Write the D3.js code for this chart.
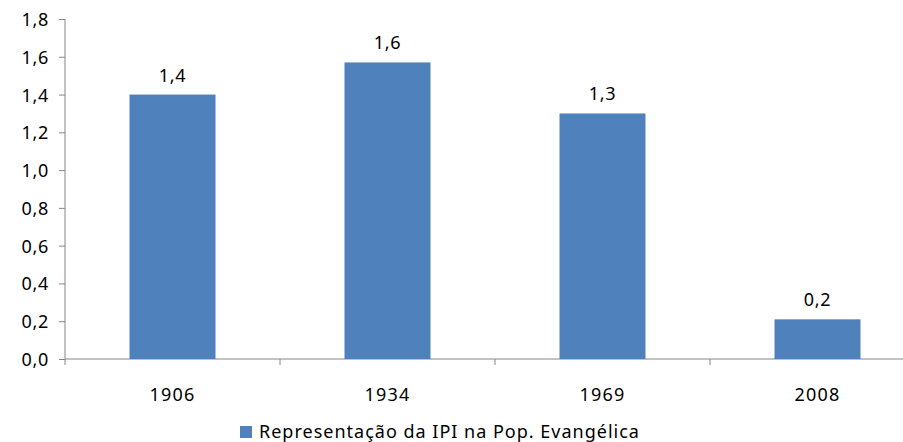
<!DOCTYPE html>
<html>
<head>
<meta charset="utf-8">
<script src="https://cdn.jsdelivr.net/npm/d3@7"></script>
<style>
  body { margin: 0; background: #fff; }
  svg { display: block; font-family: "Noto Sans", sans-serif; }
</style>
</head>
<body>
<div class="container"></div>
<script>
// Chart data
const years = ['1906', '1934', '1969', '2008']
const values = [1.40, 1.57, 1.30, 0.21]
const yTicks = [0, 0.2, 0.4, 0.6, 0.8, 1.0, 1.2, 1.4, 1.6, 1.8]
const seriesName = 'Representação da IPI na Pop. Evangélica'

const width = 903
const height = 442
const margin = {"top": 19, "left": 65, "bottom": 83}
const plotRight = 925   // the plot area runs past the right edge in the original

const barColor = '#4f81bd'
const axisColor = '#868686'
const fontSize = '18px'
const fmt = v => d3.format('.1f')(v).replace('.', ',')

const svg = d3.select('.container')
    .append('svg')
    .attr('width', width)
    .attr('height', height)

const x = d3.scaleBand()
    .domain(years)
    .range([margin.left, plotRight])
    .paddingInner(0.6)
    .paddingOuter(0.3)

const y = d3.scaleLinear()
    .domain([0, 1.8])
    .range([height - margin.bottom, margin.top])

const baseY = y(0)

// Y axis
const yAxis = svg.append('g')
    .attr('transform', `translate(${margin.left},0)`)
    .call(d3.axisLeft(y).tickValues(yTicks).tickSize(6).tickPadding(10).tickFormat(fmt))
yAxis.attr('font-family', null).attr('font-size', null)
yAxis.select('.domain').attr('stroke', axisColor).attr('d', `M0,${y(1.8)}V${baseY}`)
yAxis.selectAll('.tick line').attr('stroke', axisColor)
yAxis.selectAll('.tick text')
    .attr('fill', '#000')
    .attr('dy', '0.36em')
    .style('font-size', fontSize)
    .style('letter-spacing', '0.7px')

// X axis: line plus category separator ticks
const step = x.step()
const bounds = d3.range(years.length + 1).map(i => margin.left + i * step)
const xAxis = svg.append('g')
xAxis.append('line')
    .attr('x1', margin.left).attr('x2', plotRight)
    .attr('y1', baseY).attr('y2', baseY)
    .attr('stroke', axisColor)
xAxis.selectAll('.sep')
    .data(bounds)
    .enter()
    .append('line')
    .attr('class', 'sep')
    .attr('x1', d => d).attr('x2', d => d)
    .attr('y1', baseY).attr('y2', baseY + 6)
    .attr('stroke', axisColor)
xAxis.selectAll('.cat')
    .data(years)
    .enter()
    .append('text')
    .attr('class', 'cat')
    .attr('x', d => x(d) + x.bandwidth() / 2)
    .attr('y', baseY + 42)
    .attr('text-anchor', 'middle')
    .style('font-size', fontSize)
    .style('letter-spacing', '1.2px')
    .text(d => d)

// Bars
svg.append('g')
    .selectAll('rect')
    .data(years)
    .enter()
    .append('rect')
    .attr('x', d => x(d))
    .attr('width', x.bandwidth())
    .attr('y', (d, i) => y(values[i]))
    .attr('height', (d, i) => baseY - y(values[i]))
    .attr('fill', barColor)

// Value labels
svg.append('g')
    .selectAll('text')
    .data(years)
    .enter()
    .append('text')
    .attr('x', d => x(d) + x.bandwidth() / 2)
    .attr('y', (d, i) => y(values[i]) - 13)
    .attr('text-anchor', 'middle')
    .style('font-size', fontSize)
    .style('letter-spacing', '0.7px')
    .text((d, i) => fmt(values[i]))

// Legend
const legend = svg.append('g').attr('transform', 'translate(240,426)')
legend.append('rect')
    .attr('width', 12).attr('height', 12)
    .attr('fill', barColor)
legend.append('text')
    .attr('x', 19)
    .attr('y', 12)
    .style('font-size', fontSize)
    .style('letter-spacing', '1px')
    .text(seriesName)
</script>
</body>
</html>
